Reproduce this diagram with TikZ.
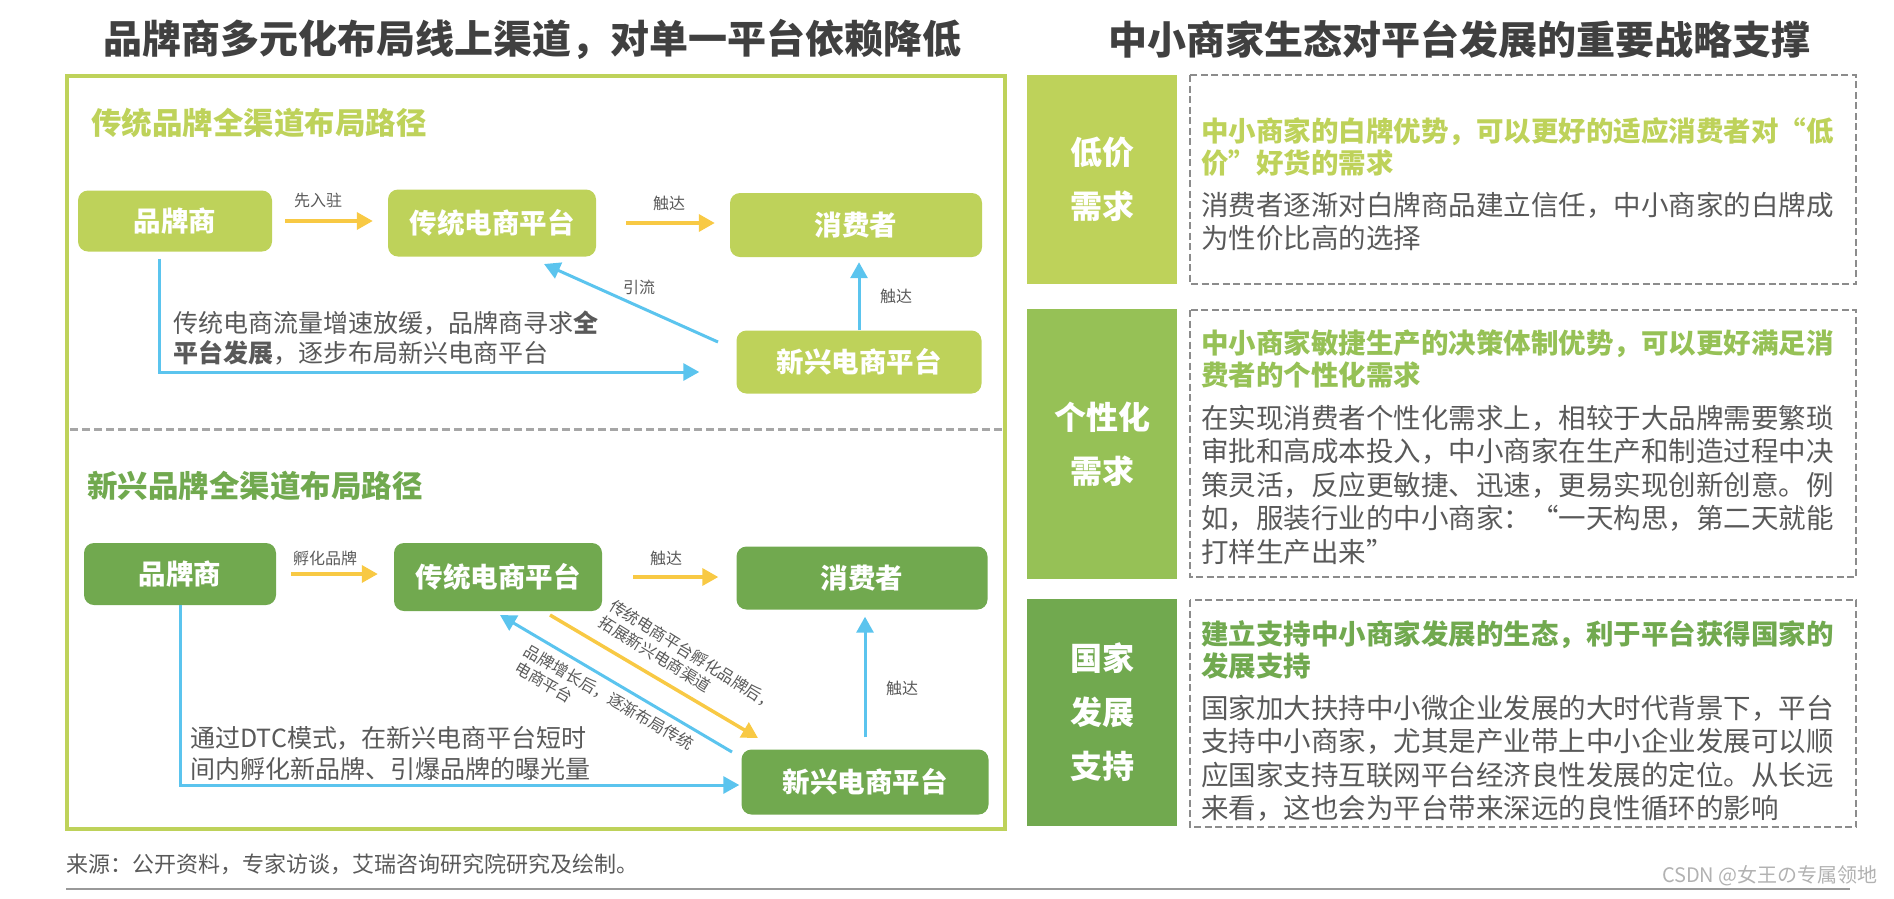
\documentclass[tikz,border=0pt]{standalone}
\usepackage{fontspec}
\setmainfont{Noto Sans CJK SC}
\usetikzlibrary{arrows.meta}

\definecolor{lgreen}{HTML}{BED25A}
\definecolor{mgreen}{HTML}{96C156}
\definecolor{dgreen}{HTML}{71A94F}
\definecolor{arrowy}{HTML}{F8C944}
\definecolor{arrowb}{HTML}{5BC4EE}
\definecolor{txtgray}{HTML}{595959}
\definecolor{titlegray}{HTML}{404040}
\definecolor{dashgray}{HTML}{8C8C8C}
\newcommand{\fsz}[2]{\fontsize{#1}{#2}\selectfont}

\tikzset{
  box/.style={rounded corners=10pt, text=white, inner sep=0pt, font=\bfseries\fsz{27.5}{33}},
  yarrow/.style={draw=arrowy, line width=3.5pt, -{Triangle[length=16pt,width=17pt]}},
  barrow/.style={draw=arrowb, line width=3pt, -{Triangle[length=16pt,width=17pt]}},
  lbl/.style={text=txtgray, font=\fsz{16}{19.5}, inner sep=0pt},
  tag/.style={inner sep=0pt, minimum width=150pt, text=white, align=center, font=\bfseries\fsz{32}{54}},
  dbox/.style={draw=dashgray, line width=2pt, dash pattern=on 7pt off 3.5pt},
  para/.style={anchor=north west, inner sep=0pt, align=left, text=txtgray, font=\fsz{27.5}{33.5}},
  head/.style={anchor=north west, inner sep=0pt, align=left, font=\bfseries\fsz{27.5}{32}},
}

\begin{document}
\begin{tikzpicture}[x=1pt,y=-1pt]
  \useasboundingbox (0,0) rectangle (1894,898);
  % titles
  \node[text=titlegray, font=\bfseries\fsz{39}{44}] (ltitle) at (532,39) {品牌商多元化布局线上渠道，对单一平台依赖降低};
  \node[text=titlegray, font=\bfseries\fsz{39}{44}] (rtitle) at (1459,39) {中小商家生态对平台发展的重要战略支撑};

  % left frame
  \draw[lgreen, line width=4pt] (67,76) rectangle (1005,829);
  \draw[gray!70, line width=3pt, dash pattern=on 8pt off 4pt] (70,429) -- (1003,429);

  % traditional brands
  \node[anchor=west, text=lgreen, font=\bfseries\fsz{30.5}{36}, inner sep=0pt] (sub1) at (91,123) {传统品牌全渠道布局路径};
  \node[box, fill=lgreen, minimum width=194pt, minimum height=61pt] (pp1) at (175,221) {品牌商};
  \node[box, fill=lgreen, minimum width=208pt, minimum height=67pt] (ct1) at (492,223) {传统电商平台};
  \node[box, fill=lgreen, minimum width=252pt, minimum height=64pt] (xf1) at (856,225) {消费者};
  \node[box, fill=lgreen, minimum width=245pt, minimum height=63pt] (xx1) at (859,362) {新兴电商平台};

  \draw[yarrow, shorten <=13pt, shorten >=15pt] (pp1.east) -- (pp1.east -| ct1.west);
  \node[lbl] (l1) at (318,200) {先入驻};
  \draw[yarrow, shorten <=30pt, shorten >=15pt] (ct1.east) -- (ct1.east -| xf1.west);
  \node[lbl] (l2) at (669,203) {触达};

  \coordinate (ylin1) at (718,342);
  \coordinate (ylout1) at (544,264);
  \draw[barrow] (ylin1) -- (ylout1);
  \node[lbl] (l3) at (639,287) {引流};
  \draw[barrow, shorten >=5pt] (xx1.north) -- (xx1.north |- xf1.south);
  \node[lbl] (l4) at (896,296) {触达};
  \draw[barrow] ([xshift=-16pt]pp1.south) ++(0,7) |- ([xshift=-37pt,yshift=-10pt]xx1.west);
  \node[para, font=\fsz{25}{30}] (txt1) at (173,311) {传统电商流量增速放缓，品牌商寻求\textbf{全}\\\textbf{平台发展}，逐步布局新兴电商平台};

  % new brands
  \node[anchor=west, text=dgreen, font=\bfseries\fsz{30.5}{36}, inner sep=0pt] (sub2) at (87,486) {新兴品牌全渠道布局路径};
  \node[box, fill=dgreen, minimum width=192pt, minimum height=62pt] (pp2) at (180,574) {品牌商};
  \node[box, fill=dgreen, minimum width=208pt, minimum height=68pt] (ct2) at (498,577) {传统电商平台};
  \node[box, fill=dgreen, minimum width=251pt, minimum height=63pt] (xf2) at (862,578) {消费者};
  \node[box, fill=dgreen, minimum width=247pt, minimum height=65pt] (xx2) at (865,782) {新兴电商平台};

  \draw[yarrow, shorten <=15pt, shorten >=16pt] (pp2.east) -- (pp2.east -| ct2.west);
  \node[lbl] (l5) at (325,558) {孵化品牌};
  \draw[yarrow, shorten <=31pt, shorten >=18pt] (ct2.east) -- (ct2.east -| xf2.west);
  \node[lbl] (l6) at (666,558) {触达};

  \coordinate (blin2) at (732,752);
  \coordinate (blout2) at (500,615);
  \coordinate (ylin2) at (550,615);
  \coordinate (ylout2) at (758,738);
  \draw[barrow] (blin2) -- (blout2);
  \draw[yarrow] (ylin2) -- (ylout2);
  \node[lbl, anchor=west, align=left, rotate=-32] (l7) at (606,612) {传统电商平台孵化品牌后，\\拓展新兴电商渠道};
  \node[lbl, anchor=west, align=left, rotate=-30] (l8) at (521,658) {品牌增长后，逐渐布局传统\\电商平台};
  \draw[barrow, shorten <=12pt, shorten >=7pt] (xx2.north) -- (xx2.north |- xf2.south);
  \node[lbl] (l9) at (902,688) {触达};
  \draw[barrow] (pp2.south) |- ([xshift=-2pt,yshift=-3pt]xx2.west);
  \node[para, font=\fsz{25}{31}] (txt2) at (190,726) {通过DTC模式，在新兴电商平台短时\\间内孵化新品牌、引爆品牌的曝光量};

  % right side
  \node[tag, fill=lgreen, minimum height=209pt] (t1) at (1102,179.5) {低价\\需求};
  \node[tag, fill=mgreen, minimum height=270pt] (t2) at (1102,444) {个性化\\需求};
  \node[tag, fill=dgreen, minimum height=227pt] (t3) at (1102,712.5) {国家\\发展\\支持};

  \draw[dbox] (1190,75) rectangle (1856,284);
  \draw[dbox] (1190,310) rectangle (1856,577);
  \draw[dbox] (1190,600) rectangle (1856,827);

  \node[head, text=lgreen] (h1) at (1201,117.5) {中小商家的白牌优势，可以更好的适应消费者对“低\\价”好货的需求};
  \node[para] (b1) at (1201,191.5) {消费者逐渐对白牌商品建立信任，中小商家的白牌成\\为性价比高的选择};
  \node[head, text=mgreen] (h2) at (1201,329.5) {中小商家敏捷生产的决策体制优势，可以更好满足消\\费者的个性化需求};
  \node[para] (b2) at (1201,404.5) {在实现消费者个性化需求上，相较于大品牌需要繁琐\\审批和高成本投入，中小商家在生产和制造过程中决\\策灵活，反应更敏捷、迅速，更易实现创新创意。例\\如，服装行业的中小商家：“一天构思，第二天就能\\打样生产出来”};
  \node[head, text=dgreen] (h3) at (1201,620.5) {建立支持中小商家发展的生态，利于平台获得国家的\\发展支持};
  \node[para] (b3) at (1201,694.5) {国家加大扶持中小微企业发展的大时代背景下，平台\\支持中小商家，尤其是产业带上中小企业发展可以顺\\应国家支持互联网平台经济良性发展的定位。从长远\\来看，这也会为平台带来深远的良性循环的影响};

  % footer
  \node[anchor=west, text=txtgray, font=\fsz{22}{26}, inner sep=0pt] (src) at (66,864) {来源：公开资料，专家访谈，艾瑞咨询研究院研究及绘制。};
  \draw[gray!80, line width=2.5pt] (66,889) -- (1850,889);
  \node[anchor=east, text=gray!60, font=\fsz{20}{24}, inner sep=0pt] (wm) at (1878,876) {CSDN @女王の专属领地};
\end{tikzpicture}
\end{document}
